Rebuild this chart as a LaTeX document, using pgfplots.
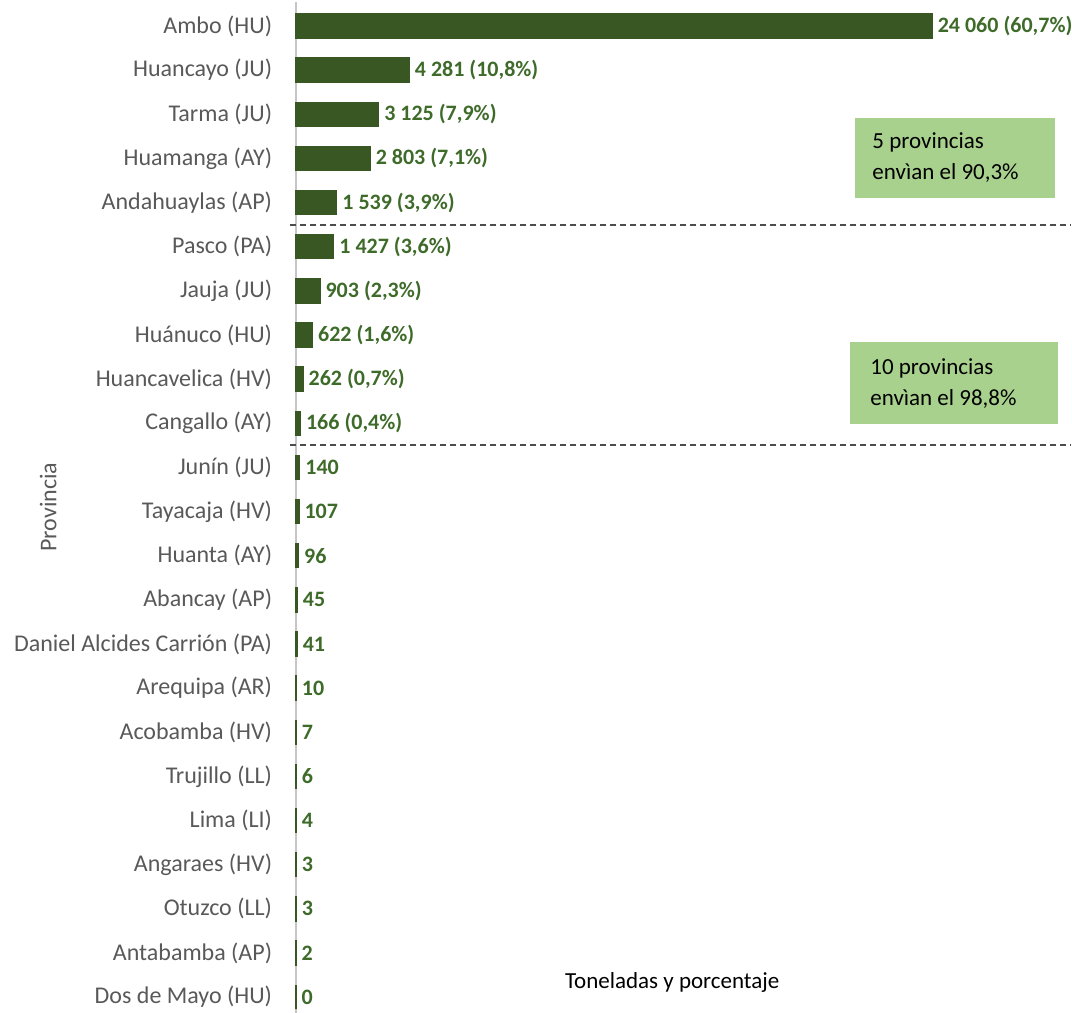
\documentclass[border=0pt]{standalone}
\usepackage{fontspec}
\setmainfont{Carlito}
\usepackage{pgfplots}
\usepackage{pgfplotstable}
\pgfplotsset{compat=1.18}
\definecolor{barcol}{HTML}{385723}
\definecolor{labcol}{HTML}{3E6B2A}
\definecolor{boxcol}{HTML}{A9D18E}
\definecolor{txtgray}{HTML}{595959}

\pgfplotstableread[col sep=semicolon]{
y;name;val;lab
0;Ambo (HU);24060;24 060 (60,7\%)
1;Huancayo (JU);4281;4 281 (10,8\%)
2;Tarma (JU);3125;3 125 (7,9\%)
3;Huamanga (AY);2803;2 803 (7,1\%)
4;Andahuaylas (AP);1539;1 539 (3,9\%)
5;Pasco (PA);1427;1 427 (3,6\%)
6;Jauja (JU);903;903 (2,3\%)
7;Huánuco (HU);622;622 (1,6\%)
8;Huancavelica (HV);262;262 (0,7\%)
9;Cangallo (AY);166;166 (0,4\%)
10;Junín (JU);140;140
11;Tayacaja (HV);107;107
12;Huanta (AY);96;96
13;Abancay (AP);45;45
14;Daniel Alcides Carrión (PA);41;41
15;Arequipa (AR);10;10
16;Acobamba (HV);7;7
17;Trujillo (LL);6;6
18;Lima (LI);4;4
19;Angaraes (HV);3;3
20;Otuzco (LL);3;3
21;Antabamba (AP);2;2
22;Dos de Mayo (HU);0;0
}\datatable

\begin{document}
\begin{tikzpicture}
\begin{axis}[name=ax,
  scale only axis, width=386pt, height=505.4pt,
  xbar, bar width=12pt,
  xmin=0, xmax=29200, ymin=-0.55, ymax=22.35, y dir=reverse,
  axis x line=none, axis y line=left,
  y axis line style={-, draw=gray!45, line width=0.8pt},
  ytick={0,...,22}, yticklabels from table={\datatable}{name},
  ytick style={draw=none},
  yticklabel style={font=\fontsize{12}{14}\selectfont, color=txtgray, xshift=-6.3pt},
  nodes near coords, point meta=explicit symbolic,
  every node near coord/.append style={anchor=west, font=\fontsize{11}{13}\selectfont\bfseries, color=labcol, inner sep=2.5pt},
  clip=false]
\addplot[fill=barcol, draw=barcol, line width=0.7pt] table[x=val, y=y, meta=lab] {\datatable};

\draw[densely dashed, color=black!70, line width=0.9pt] (axis cs:-230,4.5) -- (axis cs:29300,4.5);
\draw[densely dashed, color=black!70, line width=0.9pt] (axis cs:-230,9.5) -- (axis cs:29300,9.5);

\fill[boxcol] (axis cs:21140,2.084) rectangle (axis cs:28700,3.897);
\fill[boxcol] (axis cs:20960,7.159) rectangle (axis cs:28820,9.017);
\node[anchor=west, align=left, inner sep=0pt, font=\fontsize{11.5}{15.5}\selectfont] at (axis cs:21790,2.99) {5 provincias\\envìan el 90,3\%};
\node[anchor=west, align=left, inner sep=0pt, font=\fontsize{11.5}{15.5}\selectfont] at (axis cs:21710,8.09) {10 provincias\\envìan el 98,8\%};

\node[font=\fontsize{11.5}{13}\selectfont] at (axis cs:14230,21.68) {Toneladas y porcentaje};
\node[rotate=90, font=\fontsize{12}{14}\selectfont, color=txtgray] at (rel axis cs:-0.321,0.5) {Provincia};

\coordinate (bl) at (rel axis cs:-0.3834,-0.0004);
\coordinate (tr) at (rel axis cs:1.00518,1.00168);
\end{axis}
\pgfresetboundingbox
\path[use as bounding box] (bl) rectangle (tr);
\end{tikzpicture}
\end{document}
